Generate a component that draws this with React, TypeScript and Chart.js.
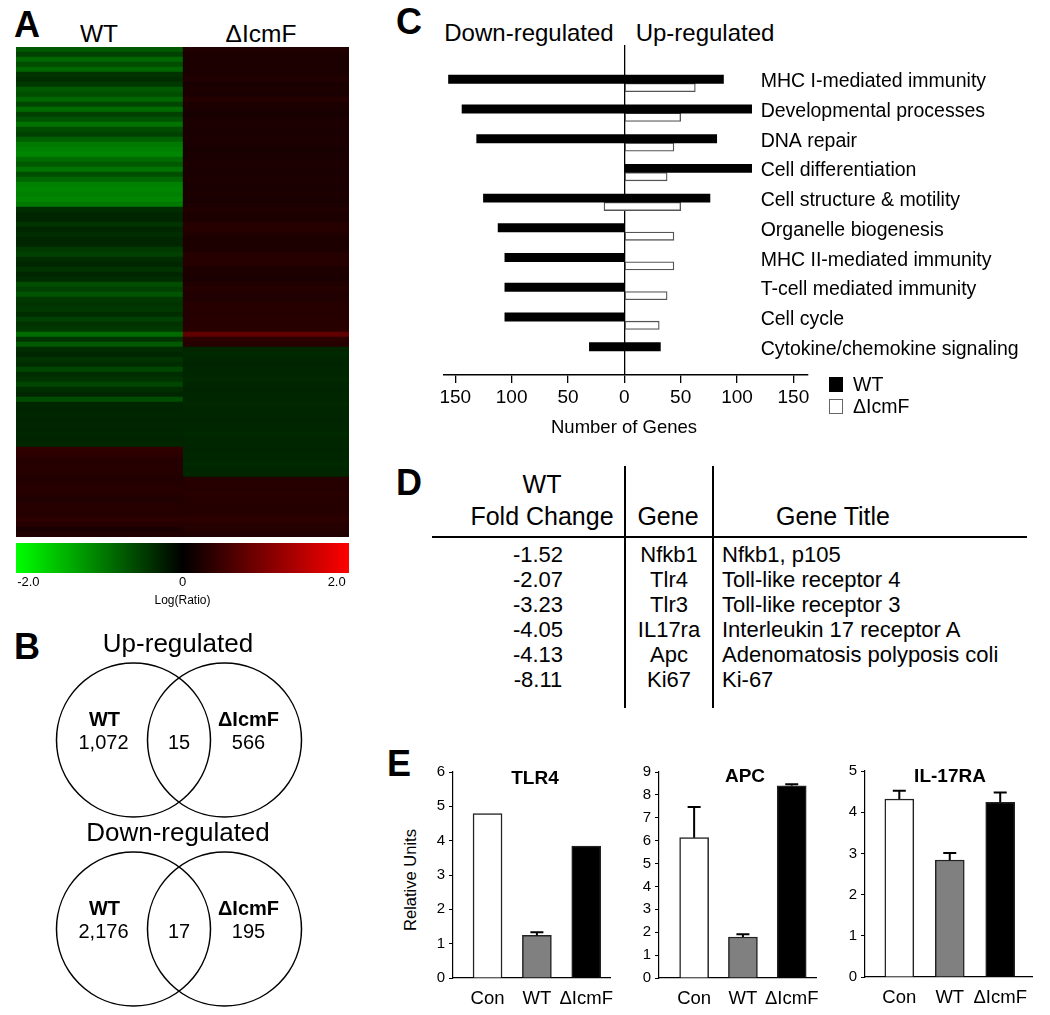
import React, { useEffect, useRef } from "react";
import { Chart, registerables } from "chart.js";
Chart.register(...registerables);

const FONT = '"Liberation Sans", Arial, Helvetica, sans-serif';
Chart.defaults.font.family = FONT;
Chart.defaults.color = "#000";

// ---------- Panel A: heatmap (log ratio per gene row) ----------
const heatColumns = ["WT", "ΔIcmF"];
const heatWT = [
  -0.7, -0.5, -0.8, -0.6, -0.8, -0.4, -0.35, -0.45, -0.7, -0.6, -0.8, -0.55, -0.85, -0.5, -0.65, -0.9,
  -0.6, -0.5, -0.75, -0.95, -1.0, -1.05, -0.85, -0.7, -0.9, -0.6, -0.8, -1.0, -1.05, -1.0, -1.05, -0.95,
  -0.35, -0.3, -0.3, -0.4, -0.3, -0.35, -0.3, -0.3, -0.45, -0.5, -0.35, -0.3, -0.4, -0.3, -0.35,
  -0.6, -0.5, -0.65, -0.45,
  -0.4, -0.45, -0.35, -0.5, -0.4, -0.45,
  -0.85,
  -0.4, -0.7,
  -0.35, -0.3, -0.4, -0.35, -0.55, -0.35, -0.4, -0.55, -0.35, -0.3, -0.6,
  -0.3, -0.28, -0.3, -0.28, -0.3, -0.28, -0.3, -0.28, -0.3,
  0.38, 0.35, 0.3, 0.28, 0.3, 0.28, 0.25, 0.28, 0.3, 0.28, 0.25, 0.28, 0.3, 0.28, 0.35, 0.3, 0.2, 0.25,
];
const heatIcmF = [
  0.25, 0.22, 0.2, 0.22, 0.2, 0.22, 0.25, 0.2, 0.22, 0.2,
  0.28, 0.22, 0.2, 0.18, 0.2, 0.22, 0.2, 0.2, 0.22, 0.2,
  0.18, 0.2, 0.2, 0.22, 0.2, 0.2, 0.22, 0.2, 0.2, 0.22,
  0.2, 0.2, 0.25, 0.22, 0.22, 0.28, 0.3, 0.25, 0.22, 0.22,
  0.22, 0.28, 0.3, 0.28, 0.22, 0.22, 0.2, 0.25, 0.28, 0.25,
  0.25, 0.3, 0.3, 0.28, 0.3, 0.3, 0.32, 0.75, 0.35, 0.3,
  -0.3, -0.32, -0.3, -0.28, -0.3, -0.3, -0.32, -0.3, -0.28, -0.3,
  -0.3, -0.32, -0.3, -0.3, -0.28, -0.3, -0.3, -0.32, -0.3, -0.3,
  -0.28, -0.3, -0.3, -0.32, -0.3, -0.3,
  0.28, 0.3, 0.28, 0.32, 0.28, 0.3, 0.28, 0.3, 0.35, 0.3, 0.28, 0.25,
];
const colorbarRange = [-2.16, 2.16];
const colorbarTicks = [-2, 0, 2];
const colorbarTickLabels = ["-2.0", "0", "2.0"];

// ---------- Panel B: Venn counts ----------
const vennSetTitles = ["Up-regulated", "Down-regulated"];
const vennGroups = ["WT", "ΔIcmF"];
const vennWT = [1072, 2176];
const vennOverlap = [15, 17];
const vennIcmF = [566, 195];

// ---------- Panel C: number of genes per category ----------
const goCategories = [
  "MHC I-mediated immunity",
  "Developmental processes",
  "DNA repair",
  "Cell differentiation",
  "Cell structure & motility",
  "Organelle biogenesis",
  "MHC II-mediated immunity",
  "T-cell mediated immunity",
  "Cell cycle",
  "Cytokine/chemokine signaling",
];
const wtDown = [156, 144, 131, 0, 125, 112, 106, 106, 106, 31];
const wtUp = [88, 113, 82, 113, 76, 0, 0, 0, 0, 32];
const icmfDown = [0, 0, 0, 0, 18, 0, 0, 0, 0, 0];
const icmfUp = [63, 50, 44, 38, 50, 44, 44, 38, 31, 0];

// ---------- Panel D: table ----------
const tableFold = ["-1.52", "-2.07", "-3.23", "-4.05", "-4.13", "-8.11"];
const tableGene = ["Nfkb1", "Tlr4", "Tlr3", "IL17ra", "Apc", "Ki67"];
const tableTitle = [
  "Nfkb1, p105",
  "Toll-like receptor 4",
  "Toll-like receptor 3",
  "Interleukin 17 receptor A",
  "Adenomatosis polyposis coli",
  "Ki-67",
];

// ---------- Panel E: qPCR ----------
const eGroups = ["Con", "WT", "ΔIcmF"];
const tlr4Mean = [4.79, 1.24, 3.84];
const tlr4Err = [0, 0.09, 0];
const apcMean = [6.13, 1.79, 8.4];
const apcErr = [1.34, 0.12, 0.07];
const il17Mean = [4.32, 2.84, 4.24];
const il17Err = [0.2, 0.17, 0.24];

function logRatioColor(v: number): string {
  const t = Math.max(-1, Math.min(1, v / 2));
  if (t < 0) return `rgb(0,${Math.round(-t * 255)},0)`;
  return `rgb(${Math.round(t * 255)},0,0)`;
}

function useChart(build: (c: HTMLCanvasElement) => Chart) {
  const ref = useRef<HTMLCanvasElement>(null);
  useEffect(() => {
    const ch = build(ref.current as HTMLCanvasElement);
    return () => ch.destroy();
  }, []);
  return ref;
}

function Canvas(props: { left: number; top: number; width: number; height: number; build: (c: HTMLCanvasElement) => Chart; bg?: string }) {
  const ref = useChart(props.build);
  return (
    <canvas
      ref={ref}
      width={props.width}
      height={props.height}
      style={{ position: "absolute", left: props.left, top: props.top, width: props.width, height: props.height, background: props.bg }}
    />
  );
}

function T(props: { x: number; y: number; size: number; bold?: boolean; align?: "center" | "left" | "right"; rotate?: boolean; children: React.ReactNode }) {
  const align = props.align || "center";
  const tx = align === "center" ? "-50%" : align === "left" ? "0" : "-100%";
  return (
    <div
      style={{
        position: "absolute",
        left: props.x,
        top: props.y,
        transform: `translate(${tx},-50%)${props.rotate ? " rotate(-90deg)" : ""}`,
        fontSize: props.size,
        fontWeight: props.bold ? 700 : 400,
        lineHeight: 1,
        whiteSpace: "nowrap",
        fontFamily: FONT,
        color: "#000",
      }}
    >
      {props.children}
    </div>
  );
}

function Line(props: { x: number; y: number; w: number; h: number; color?: string }) {
  return <div style={{ position: "absolute", left: props.x, top: props.y, width: props.w, height: props.h, background: props.color || "#000" }} />;
}

const noPlugins = { legend: { display: false }, tooltip: { enabled: false }, title: { display: false } };

function buildHeatmap(c: HTMLCanvasElement) {
  const rows = heatWT.map((_, i) => String(i));
  const cols = [heatWT, heatIcmF];
  return new Chart(c, {
    type: "bar",
    data: {
      labels: rows,
      datasets: cols.map((vals, k) => ({
        label: heatColumns[k],
        data: vals.map(() => [k, k + 1]),
        backgroundColor: vals.map(logRatioColor),
        borderWidth: 0,
        barPercentage: 1,
        categoryPercentage: 1,
        grouped: false,
      })) as any,
    },
    options: {
      indexAxis: "y",
      responsive: false,
      animation: false,
      layout: { padding: 0, autoPadding: false },
      scales: {
        x: { type: "linear", min: 0, max: 2, display: false },
        y: { type: "category", display: false },
      },
      plugins: noPlugins as any,
    },
  });
}

function buildColorbar(c: HTMLCanvasElement) {
  return new Chart(c, {
    type: "bar",
    data: {
      labels: ["Log(Ratio)"],
      datasets: [
        {
          data: [colorbarRange as any],
          backgroundColor: (ctx: any) => {
            const ca = ctx.chart.chartArea;
            if (!ca) return "#000";
            const g = ctx.chart.ctx.createLinearGradient(ca.left, 0, ca.right, 0);
            g.addColorStop(0, logRatioColor(colorbarRange[0]));
            g.addColorStop(0.5, logRatioColor(0));
            g.addColorStop(1, logRatioColor(colorbarRange[1]));
            return g;
          },
          borderWidth: 0,
          barPercentage: 1,
          categoryPercentage: 1,
        },
      ],
    },
    options: {
      indexAxis: "y",
      responsive: false,
      animation: false,
      layout: { padding: { left: 16, right: 16, top: 3, bottom: 0 }, autoPadding: false },
      scales: {
        x: {
          type: "linear",
          min: colorbarRange[0],
          max: colorbarRange[1],
          afterBuildTicks: (s: any) => {
            s.ticks = colorbarTicks.map((v) => ({ value: v }));
          },
          ticks: { callback: (_v: any, i: number) => colorbarTickLabels[i], font: { size: 13 }, padding: 2, color: "#000" },
          grid: { display: false, drawTicks: false },
          border: { display: false },
          title: { display: true, text: "Log(Ratio)", font: { size: 12 }, padding: { top: 0, bottom: 2 }, color: "#000" },
          afterFit: (s: any) => {
            s.height = 37;
          },
        },
        y: { display: false },
      },
      plugins: noPlugins as any,
    },
  });
}

function buildVenn(c: HTMLCanvasElement) {
  const pts: { x: number; y: number }[] = [];
  vennSetTitles.forEach((_, s) => {
    pts.push({ x: 0, y: s });
    pts.push({ x: 1, y: s });
  });
  return new Chart(c, {
    type: "scatter",
    data: {
      datasets: [
        {
          data: pts,
          pointRadius: 77,
          pointBorderWidth: 1.5,
          pointBackgroundColor: "rgba(0,0,0,0)",
          pointBorderColor: "#000",
          clip: false as any,
        },
      ],
    },
    options: {
      responsive: false,
      animation: false,
      layout: { padding: 0, autoPadding: false },
      scales: {
        x: { type: "linear", min: -1.467, max: 2.489, display: false, offset: false },
        y: { type: "linear", min: -0.688, max: 1.455, reverse: true, display: false, offset: false },
      },
      plugins: noPlugins as any,
    },
    plugins: [
      {
        id: "vennText",
        afterDatasetsDraw(chart: any) {
          const { ctx } = chart;
          const xs = chart.scales.x;
          const ys = chart.scales.y;
          ctx.save();
          ctx.fillStyle = "#000";
          ctx.textAlign = "center";
          ctx.textBaseline = "middle";
          vennSetTitles.forEach((title, s) => {
            const cy = ys.getPixelForValue(s);
            const xl = xs.getPixelForValue(0);
            const xr = xs.getPixelForValue(1);
            const xm = xs.getPixelForValue(0.5);
            ctx.font = `26px ${FONT}`;
            ctx.fillText(title, xm - 1, cy - 95);
            ctx.font = `bold 20px ${FONT}`;
            ctx.fillText(vennGroups[0], xl - 29, cy - 20);
            ctx.fillText(vennGroups[1], xr + 24, cy - 20);
            ctx.font = `20px ${FONT}`;
            ctx.fillText(vennWT[s].toLocaleString("en-US"), xl - 30, cy + 3);
            ctx.fillText(vennOverlap[s].toLocaleString("en-US"), xm, cy + 3);
            ctx.fillText(vennIcmF[s].toLocaleString("en-US"), xr + 24, cy + 3);
          });
          ctx.restore();
        },
      },
    ],
  });
}

function buildGenes(c: HTMLCanvasElement) {
  const wtData = goCategories.map((_, i) => ({ x: [-wtDown[i], wtUp[i]], y: i }));
  const icData = goCategories
    .map((_, i) => ({ x: [-icmfDown[i], icmfUp[i]], y: i }))
    .filter((d) => d.x[0] !== 0 || d.x[1] !== 0);
  return new Chart(c, {
    type: "bar",
    data: {
      datasets: [
        { label: "WT", data: wtData as any, backgroundColor: "#000", borderColor: "#000", borderWidth: 0, barThickness: 8.3 },
        { label: "ΔIcmF", data: icData as any, backgroundColor: "#fff", borderColor: "#555", borderWidth: 1.3, borderSkipped: false, barThickness: 8.3 },
      ],
    },
    options: {
      indexAxis: "y",
      responsive: false,
      animation: false,
      layout: { padding: { left: 24, right: 242, top: 45, bottom: 30 }, autoPadding: false },
      scales: {
        x: {
          type: "linear",
          min: -160,
          max: 163,
          offset: false,
          ticks: { stepSize: 50, includeBounds: false, callback: (v: any) => String(Math.abs(v)), font: { size: 19 }, color: "#000", padding: 3 },
          grid: {
            color: (ctx: any) => (ctx.tick && ctx.tick.value === 0 ? "#000" : "rgba(0,0,0,0)"),
            tickColor: "#000",
            tickLength: 8,
            lineWidth: 1.3,
            offset: false,
          },
          border: { color: "#000", width: 1.5 },
          afterFit: (s: any) => {
            s.height = 40;
          },
        },
        y: { type: "linear", min: -1.29, max: 9.81, reverse: true, display: false, offset: false, grid: { offset: false } },
      },
      plugins: noPlugins as any,
    },
    plugins: [
      {
        id: "catLabels",
        afterDraw(chart: any) {
          const { ctx } = chart;
          const ys = chart.scales.y;
          const xs = chart.scales.x;
          ctx.save();
          ctx.fillStyle = "#000";
          ctx.font = `19.5px ${FONT}`;
          ctx.textAlign = "left";
          ctx.textBaseline = "middle";
          const x0 = xs.getPixelForValue(121);
          goCategories.forEach((lab, i) => {
            ctx.fillText(lab, x0, ys.getPixelForValue(i) - 1.5);
          });
          ctx.restore();
        },
      },
    ],
  });
}

function makeBarBuilder(means: number[], errs: number[], yMax: number, xMin: number, xMax: number, pad: { left: number; right: number; top: number; bottom: number }) {
  return (c: HTMLCanvasElement) =>
    new Chart(c, {
      type: "bar",
      data: {
        datasets: [
          {
            data: means.map((m, i) => ({ x: i, y: m })) as any,
            backgroundColor: ["#ffffff", "#808080", "#000000"],
            borderColor: "#222",
            borderWidth: 1.5,
            barThickness: 29,
          },
        ],
      },
      options: {
        responsive: false,
        animation: false,
        layout: { padding: pad, autoPadding: false },
        scales: {
          x: {
            type: "linear",
            min: xMin,
            max: xMax,
            offset: false,
            afterBuildTicks: (s: any) => {
              s.ticks = eGroups.map((_, i) => ({ value: i }));
            },
            ticks: { callback: (v: any) => eGroups[v], font: { size: 18.5 }, color: "#000", padding: 10, maxRotation: 0, autoSkip: false },
            grid: { display: false, drawTicks: false, offset: false },
            border: { color: "#000", width: 1.2 },
            afterFit: (s: any) => {
              s.height = 35;
            },
          },
          y: {
            type: "linear",
            min: 0,
            max: yMax,
            ticks: { stepSize: 1, font: { size: 15 }, color: "#000", padding: 4 },
            grid: { drawOnChartArea: false, tickLength: 4, color: "#000" },
            border: { color: "#000", width: 1.2 },
            afterFit: (s: any) => {
              s.width = 30;
            },
          },
        },
        plugins: noPlugins as any,
      },
      plugins: [
        {
          id: "errBars",
          afterDatasetsDraw(chart: any) {
            const { ctx } = chart;
            const ys = chart.scales.y;
            const meta = chart.getDatasetMeta(0);
            ctx.save();
            ctx.strokeStyle = "#000";
            ctx.lineWidth = 2;
            means.forEach((m, i) => {
              if (!errs[i]) return;
              const x = meta.data[i].x;
              const yb = ys.getPixelForValue(m);
              const yt = ys.getPixelForValue(m + errs[i]);
              ctx.beginPath();
              ctx.moveTo(x, yb);
              ctx.lineTo(x, yt);
              ctx.moveTo(x - 6.5, yt);
              ctx.lineTo(x + 6.5, yt);
              ctx.stroke();
            });
            ctx.restore();
          },
        },
      ],
    });
}

const buildTlr4 = makeBarBuilder(tlr4Mean, tlr4Err, 6, -0.7, 2.5, { left: 23, right: 13, top: 17, bottom: 2 });
const buildApc = makeBarBuilder(apcMean, apcErr, 9, -0.72, 2.5, { left: 4, right: 10, top: 17, bottom: 2 });
const buildIl17 = makeBarBuilder(il17Mean, il17Err, 5, -0.68, 2.63, { left: 5, right: 13, top: 16, bottom: 3 });

export default function App() {
  const rowY = [555, 580, 605, 630, 655, 680];
  return (
    <div style={{ position: "absolute", left: 0, top: 0, width: 1050, height: 1015, background: "#fff", overflow: "hidden", fontFamily: FONT }}>
      {/* Panel A */}
      <T x={27} y={25} size={36} bold>A</T>
      <T x={99} y={34} size={24.5}>{heatColumns[0]}</T>
      <T x={261} y={34} size={24.5}>{heatColumns[1]}</T>
      <Canvas left={16} top={47} width={333} height={490} build={buildHeatmap} bg="#0a0000" />
      <Canvas left={0} top={540} width={365} height={70} build={buildColorbar} />

      {/* Panel B */}
      <T x={27} y={647} size={36} bold>B</T>
      <Canvas left={0} top={610} width={360} height={405} build={buildVenn} />

      {/* Panel C */}
      <T x={409} y={22} size={36} bold>C</T>
      <T x={529} y={33} size={24}>Down-regulated</T>
      <T x={705} y={33} size={24}>Up-regulated</T>
      <Canvas left={420} top={0} width={630} height={445} build={buildGenes} />
      <T x={624} y={427} size={18.5}>Number of Genes</T>
      <Line x={829} y={377} w={14} h={15} />
      <div style={{ position: "absolute", left: 829, top: 399, width: 12, height: 13, border: "1px solid #666", background: "#fff" }} />
      <T x={853} y={385} size={19.5} align="left">WT</T>
      <T x={853} y={407} size={19.5} align="left">ΔIcmF</T>

      {/* Panel D */}
      <T x={409} y={483} size={36} bold>D</T>
      <T x={542} y={484} size={25}>WT</T>
      <T x={542} y={516} size={25}>Fold Change</T>
      <T x={668} y={516} size={25}>Gene</T>
      <T x={833} y={516} size={25}>Gene Title</T>
      <Line x={432} y={536} w={595} h={1.5} />
      <Line x={624} y={466} w={1.5} h={242} />
      <Line x={712} y={466} w={1.5} h={242} />
      {tableFold.map((f, i) => (
        <React.Fragment key={i}>
          <T x={538} y={rowY[i]} size={22}>{f}</T>
          <T x={669} y={rowY[i]} size={22}>{tableGene[i]}</T>
          <T x={722} y={rowY[i]} size={22} align="left">{tableTitle[i]}</T>
        </React.Fragment>
      ))}

      {/* Panel E */}
      <T x={399} y={764} size={36} bold>E</T>
      <T x={410} y={880} size={16.5} rotate>Relative Units</T>
      <Canvas left={400} top={755} width={225} height={260} build={buildTlr4} />
      <Canvas left={625} top={755} width={205} height={260} build={buildApc} />
      <Canvas left={830} top={755} width={215} height={260} build={buildIl17} />
      <T x={535} y={777} size={19} bold>TLR4</T>
      <T x={745} y={775} size={19} bold>APC</T>
      <T x={950} y={775} size={19} bold>IL-17RA</T>
    </div>
  );
}
